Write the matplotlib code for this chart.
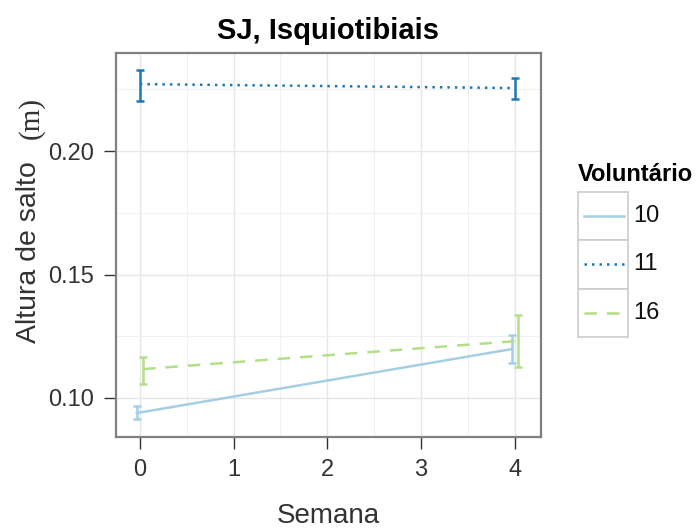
import numpy as np
import matplotlib.pyplot as plt
from matplotlib.patches import Rectangle

# data
semanas = [0, 4]
voluntarios = ["10", "11", "16"]
media = {"10": [0.0939, 0.1198], "11": [0.2271, 0.2255], "16": [0.1117, 0.1231]}
err_lo = {"10": [0.0915, 0.1142], "11": [0.2202, 0.2211], "16": [0.1057, 0.1126]}
err_hi = {"10": [0.0968, 0.1255], "11": [0.2328, 0.2296], "16": [0.1166, 0.1336]}
cores = {"10": "#a6cee3", "11": "#1f78b4", "16": "#b2df8a"}
estilos = {"10": "-", "11": (0, (1, 2.0)), "16": (0, (5, 4))}
dodge = {"10": -0.033, "11": 0.0, "16": 0.033}

W, H = 696, 531
fig = plt.figure(figsize=(W / 100, H / 100), dpi=100)
plt.rcParams["font.family"] = ["Liberation Sans", "DejaVu Sans"]

ax = fig.add_axes([116 / W, 1 - 437 / H, 425 / W, 384 / H])
ax.set_xlim(-0.255, 4.28)
ax.set_ylim(0.0842, 0.2397)

ax.set_xticks([0, 1, 2, 3, 4])
ax.set_yticks([0.10, 0.15, 0.20])
ax.set_yticklabels(["0.10", "0.15", "0.20"])
ax.set_xticks([0.5, 1.5, 2.5, 3.5], minor=True)
ax.set_yticks([0.125, 0.175, 0.225], minor=True)
ax.grid(which="major", color="#e6e6e6", lw=1.0)
ax.grid(which="minor", color="#f0f0f0", lw=0.8)
ax.set_axisbelow(True)
ax.tick_params(which="major", length=8.5, width=1.0, color="#333333",
               labelsize=17, labelcolor="#333333", pad=7)
ax.tick_params(which="minor", length=0)
for s in ax.spines.values():
    s.set_color("#808080")
    s.set_linewidth(1.6)

for v in voluntarios:
    x = np.array(semanas) + dodge[v]
    ax.plot(x, media[v], color=cores[v], ls=estilos[v], lw=1.8)
    y = np.array(media[v])
    yerr = [y - np.array(err_lo[v]), np.array(err_hi[v]) - y]
    ax.errorbar(x, y, yerr=yerr, fmt="none", ecolor=cores[v], elinewidth=1.8,
                capsize=3, capthick=1.8)

fig.text(328 / W, 1 - 39 / H, "SJ, Isquiotibiais", ha="center", va="baseline",
         fontsize=21, fontweight="bold")
fig.text(328 / W, 1 - 523 / H, "Semana", ha="center", va="baseline",
         fontsize=20, color="#333333")
fig.text(29 / W, 1 - 343 / H, "Altura de salto", rotation=90, ha="center",
         va="bottom", fontsize=20.5, color="#333333")
fig.text(31 / W, 1 - 118 / H, "(m)", rotation=90, ha="center", va="center",
         fontsize=21, family="Liberation Serif", color="#333333")

# legend, drawn by hand to get the ggplot key boxes
fig.text(578 / W, 1 - 181 / H, "Voluntário", ha="left", va="baseline",
         fontsize=17, fontweight="bold")
for i, v in enumerate(voluntarios):
    top = 192 + 48.3 * i
    fig.add_artist(Rectangle((578 / W, 1 - (top + 48.3) / H), 50 / W, 48.3 / H,
                             transform=fig.transFigure, facecolor="white",
                             edgecolor="#cccccc", lw=1.2))
    yc = 1 - (top + 24) / H
    fig.add_artist(plt.Line2D([584 / W, 624 / W], [yc, yc], transform=fig.transFigure,
                              color=cores[v], ls=estilos[v], lw=1.8))
    fig.text(633 / W, yc, v, ha="left", va="center", fontsize=17, color="#111111")

fig.savefig("out.png", dpi=100)
